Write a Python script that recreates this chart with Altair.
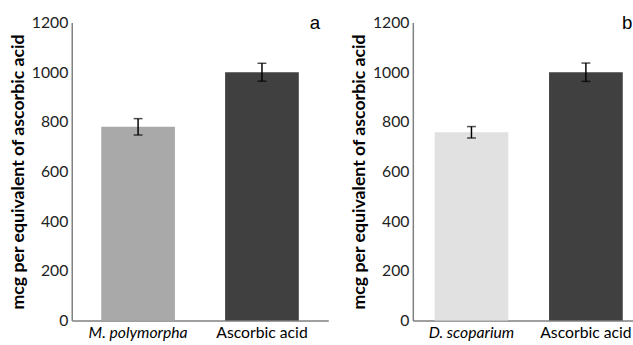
import altair as alt
import pandas as pd

left_categories = ["M. polymorpha", "Ascorbic acid"]
left_values = [780, 1000]
left_errors = [33, 36]
left_colors = ["#a9a9a9", "#404040"]

right_categories = ["D. scoparium", "Ascorbic acid"]
right_values = [758, 1000]
right_errors = [23, 37]
right_colors = ["#e1e1e1", "#404040"]

y_ticks = [0, 200, 400, 600, 800, 1000, 1200]
y_title = "mcg per equivalent of ascorbic acid"
italic_names = ["M. polymorpha", "D. scoparium"]
panel_letters = ["a", "b"]
letter_level = [1200]

FONT = "Lato"


def panel(cats, vals, errs, colors, letter, letter_dx, width, pad_inner, pad_outer, align):
    df = pd.DataFrame({
        "cat": cats,
        "val": vals,
        "lo": [v - e for v, e in zip(vals, errs)],
        "hi": [v + e for v, e in zip(vals, errs)],
        "color": colors,
    })
    italic_test = "indexof([%s], datum.value) >= 0" % ", ".join('"%s"' % n for n in italic_names)
    xenc = alt.X(
        "cat:N",
        sort=cats,
        scale=alt.Scale(paddingInner=pad_inner, paddingOuter=pad_outer, align=align),
        axis=alt.Axis(
            title=None, ticks=False, labelAngle=0, labelFont=FONT, labelFontSize=16,
            labelColor="#000000", labelPadding=4, domainColor="#7f7f7f", domainWidth=1.5,
            labelFontStyle={"condition": {"test": italic_test, "value": "italic"}, "value": "normal"},
        ),
    )
    yscale = alt.Scale(domain=[0, 1200], nice=False)
    base = alt.Chart(df)
    bars = base.mark_bar().encode(
        x=xenc,
        y=alt.Y(
            "val:Q",
            scale=yscale,
            axis=alt.Axis(
                values=y_ticks, format="d", title=y_title, grid=False, ticks=False, labelFont=FONT,
                labelFontSize=16, labelColor="#222222", labelPadding=4,
                titleFont=FONT, titleFontSize=18, titleFontWeight="bold",
                titleColor="#000000", titlePadding=4, domainColor="#7f7f7f", domainWidth=1.5,
            ),
        ),
        color=alt.Color("color:N", scale=None),
    )
    rule = base.mark_rule(color="#000000", strokeWidth=1.5).encode(
        x=alt.X("cat:N", sort=cats), y=alt.Y("lo:Q", scale=yscale), y2="hi:Q"
    )
    cap_lo = base.mark_tick(color="#000000", thickness=1.5, size=9).encode(
        x=alt.X("cat:N", sort=cats), y=alt.Y("lo:Q", scale=yscale)
    )
    cap_hi = base.mark_tick(color="#000000", thickness=1.5, size=9).encode(
        x=alt.X("cat:N", sort=cats), y=alt.Y("hi:Q", scale=yscale)
    )
    ldf = pd.DataFrame({"cat": [cats[-1]], "lvl": letter_level, "letter": [letter]})
    label = alt.Chart(ldf).mark_text(
        font="Liberation Sans", fontSize=19, color="#000000", align="center",
        baseline="alphabetic", dx=letter_dx, dy=7,
    ).encode(
        x=alt.X("cat:N", sort=cats), y=alt.Y("lvl:Q", scale=yscale), text="letter:N"
    )
    return alt.layer(bars, rule, cap_lo, cap_hi, label).properties(width=width, height=303)


left = panel(left_categories, left_values, left_errors, left_colors, panel_letters[0], 54, 261, 0.405, 0.238, 0.5)
right = panel(right_categories, right_values, right_errors, right_colors, panel_letters[1], 42, 224, 0.356, 0.14, 0.68)

chart = (
    alt.hconcat(left, right, spacing=22)
    .properties(padding={"left": 9, "top": 12, "right": 0, "bottom": 0})
    .configure_view(stroke=None)
)

chart.save("out.html", embed_options={"renderer": "svg", "actions": False})
